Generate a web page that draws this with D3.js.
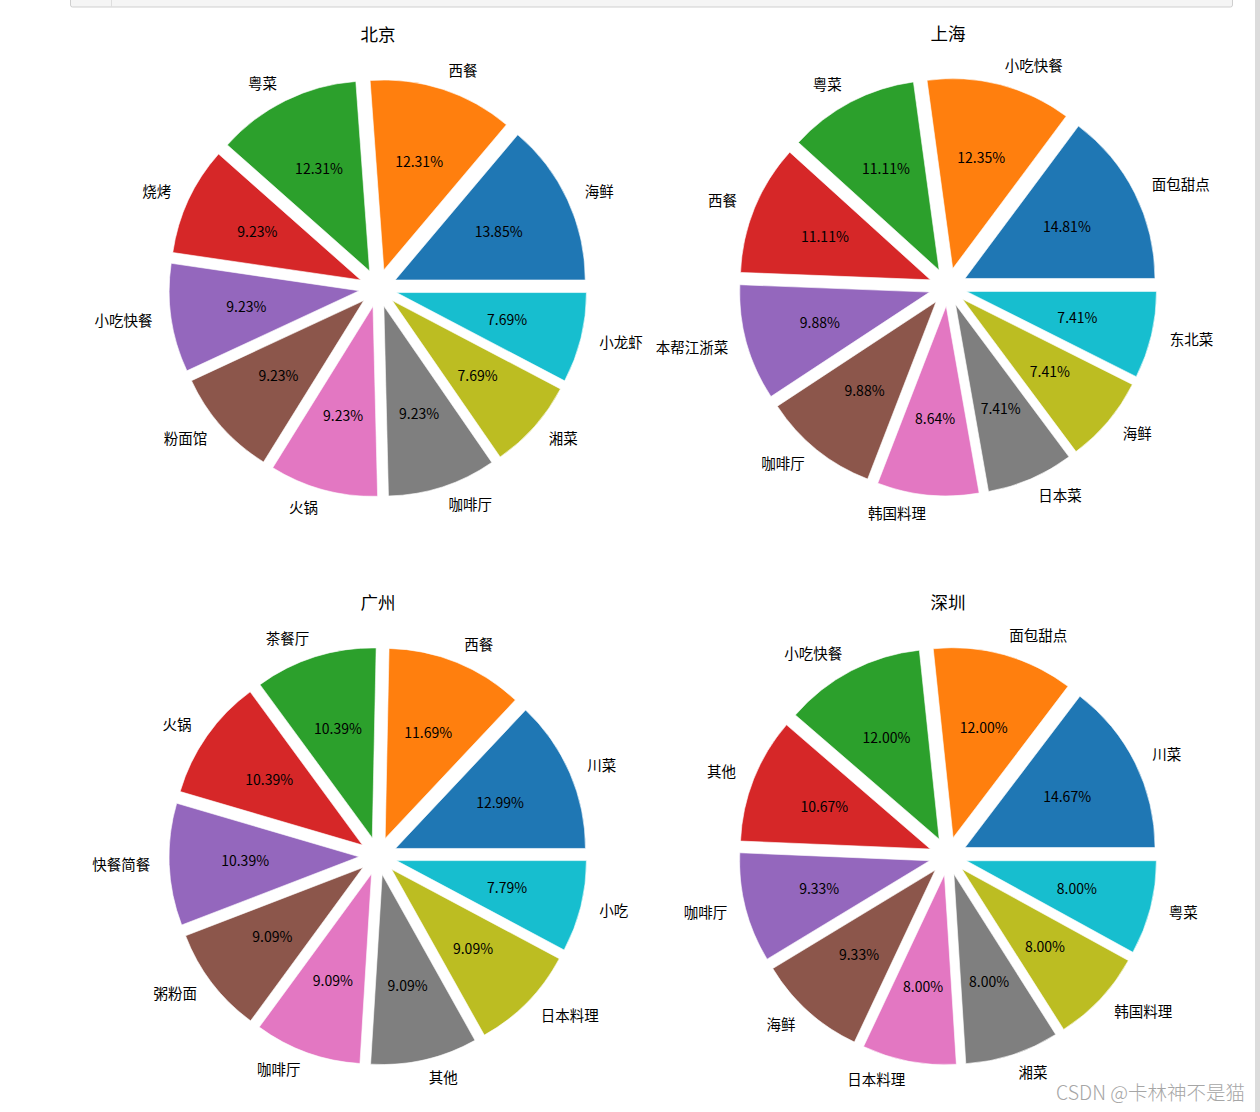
<!DOCTYPE html>
<html lang="zh">
<head><meta charset="utf-8">
<title>四城市餐饮类型占比</title>
<style>
body {
  margin: 0;
  background: #ffffff;
  font-family: "Noto Sans CJK SC", sans-serif;
}
svg { display: block; }
.title { font-size: 17.5px; fill: #000; }
.label { font-size: 14.5px; fill: #000; }
.pct { font-size: 14px; fill: #000; }
</style>
</head>
<body>
<svg></svg>

<script src="https://d3js.org/d3.v7.min.js"></script>
<script>

// counts (pct * total)
var bjNames = ["海鲜", "西餐", "粤菜", "烧烤", "小吃快餐", "粉面馆", "火锅", "咖啡厅", "湘菜", "小龙虾"];
var bjCounts = [9, 8, 8, 6, 6, 6, 6, 6, 5, 5];

var shNames = ["面包甜点", "小吃快餐", "粤菜", "西餐", "本帮江浙菜", "咖啡厅", "韩国料理", "日本菜", "海鲜", "东北菜"];
var shCounts = [12, 10, 9, 9, 8, 8, 7, 6, 6, 6];

var gzNames = ["川菜", "西餐", "茶餐厅", "火锅", "快餐简餐", "粥粉面", "咖啡厅", "其他", "日本料理", "小吃"];
var gzCounts = [10, 9, 8, 8, 8, 7, 7, 7, 7, 6];

var szNames = ["川菜", "面包甜点", "小吃快餐", "其他", "咖啡厅", "海鲜", "日本料理", "湘菜", "韩国料理", "粤菜"];
var szCounts = [11, 9, 9, 8, 7, 7, 6, 6, 6, 6];

var cityTitles = ["北京", "上海", "广州", "深圳"];

var colors = ["#1f77b4", "#ff7f0e", "#2ca02c", "#d62728", "#9467bd",
              "#8c564b", "#e377c2", "#7f7f7f", "#bcbd22", "#17becf"];

var width = 1260, height = 1112;
var radius = 190;
var explode = 0.1;

var svg = d3.select("svg")
    .attr("width", width)
    .attr("height", height);

// notebook cell strip at the top and scrollbar on the right
svg.append("rect")
    .attr("x", 70.5).attr("y", -2)
    .attr("width", 1162).attr("height", 9)
    .attr("rx", 2)
    .attr("fill", "#f5f5f5")
    .attr("stroke", "#cfcfcf");
svg.append("line")
    .attr("x1", 111.5).attr("x2", 111.5)
    .attr("y1", 0).attr("y2", 7)
    .attr("stroke", "#dedede");
svg.append("rect")
    .attr("x", 1255).attr("y", 0)
    .attr("width", 5).attr("height", height)
    .attr("fill", "#dcdcdc");

var panels = [
  {names: bjNames, counts: bjCounts, cx: 378, cy: 288},
  {names: shNames, counts: shCounts, cx: 948, cy: 287},
  {names: gzNames, counts: gzCounts, cx: 378, cy: 856},
  {names: szNames, counts: szCounts, cx: 948, cy: 856}
];

// matplotlib: start at 3 o'clock, counter-clockwise
var pie = d3.pie()
    .sort(null)
    .startAngle(Math.PI / 2)
    .endAngle(Math.PI / 2 - 2 * Math.PI);

var arc = d3.arc()
    .innerRadius(0)
    .outerRadius(radius);

function polar(a, r) {
  return [r * Math.sin(a), -r * Math.cos(a)];
}

panels.forEach(function(p, i) {
  var total = d3.sum(p.counts);
  var g = svg.append("g")
      .attr("transform", "translate(" + p.cx + "," + p.cy + ")");

  g.append("text")
      .attr("class", "title")
      .attr("x", 0)
      .attr("y", -254.5)
      .attr("text-anchor", "middle")
      .attr("dominant-baseline", "central")
      .text(cityTitles[i]);

  var arcs = pie(p.counts);

  var slice = g.selectAll("g.slice")
      .data(arcs)
    .enter().append("g")
      .attr("class", "slice")
      .attr("transform", function(d) {
        var m = (d.startAngle + d.endAngle) / 2;
        var o = polar(m, explode * radius);
        return "translate(" + o[0] + "," + o[1] + ")";
      });

  slice.append("path")
      .attr("d", arc)
      .attr("fill", function(d, j) { return colors[j % colors.length]; })
      .attr("stroke", "#ffffff")
      .attr("stroke-width", 0.6);

  slice.append("text")
      .attr("class", "pct")
      .attr("transform", function(d) {
        var m = (d.startAngle + d.endAngle) / 2;
        var t = polar(m, 0.6 * radius);
        return "translate(" + t[0] + "," + (t[1] - 1) + ")";
      })
      .attr("text-anchor", "middle")
      .attr("dominant-baseline", "central")
      .text(function(d) { return (d.value / total * 100).toFixed(2) + "%"; });

  slice.append("text")
      .attr("class", "label")
      .attr("transform", function(d) {
        var m = (d.startAngle + d.endAngle) / 2;
        var t = polar(m, 1.1 * radius);
        return "translate(" + t[0] + "," + (t[1] - 1.5) + ")";
      })
      .attr("text-anchor", function(d) {
        var m = (d.startAngle + d.endAngle) / 2;
        return Math.sin(m) > 0 ? "start" : "end";
      })
      .attr("dominant-baseline", "central")
      .text(function(d, j) { return p.names[j]; });
});

// watermark
svg.append("text")
    .attr("x", 1245)
    .attr("y", 1091)
    .attr("text-anchor", "end")
    .attr("dominant-baseline", "central")
    .attr("fill", "#a6a6a6")
    .attr("font-size", "19.5px")
    .attr("font-weight", 300)
    .text("CSDN @卡林神不是猫");

</script>
</body>
</html>
